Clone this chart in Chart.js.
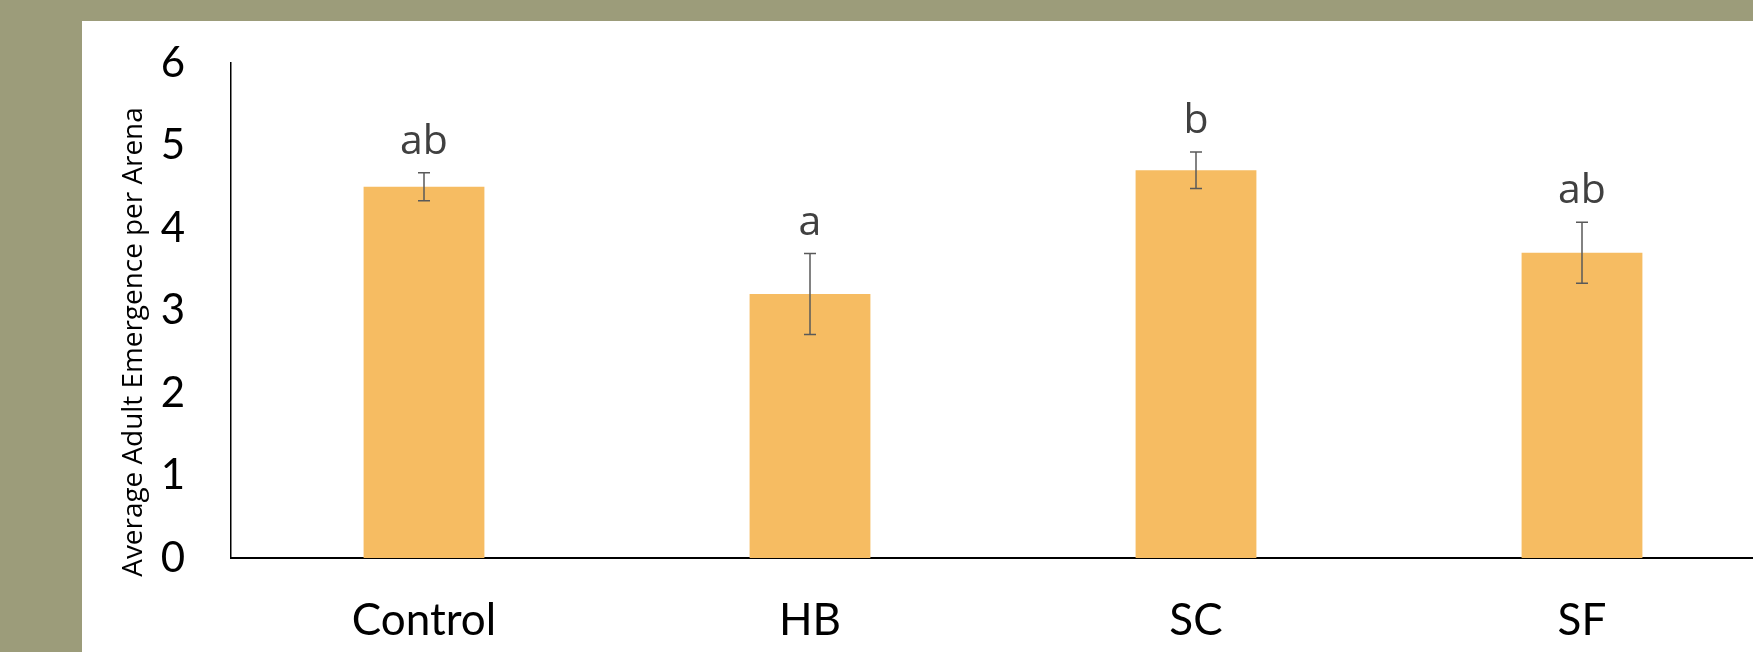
<!DOCTYPE html>
<html>
<head>
<meta charset="utf-8">
<script src="https://cdn.jsdelivr.net/npm/chart.js@4"></script>
<style>
  html, body { margin: 0; padding: 0; overflow: hidden; }
  body { width: 1753px; height: 652px; background: #9c9c7a; position: relative; }
  #panel { position: absolute; left: 82px; top: 21px; right: 0; bottom: 0; background: #fff; }
  #wrap { position: absolute; left: 0; top: 0; width: 1775px; height: 652px; }
</style>
</head>
<body>
<div id="panel"></div>
<div id="wrap"><canvas id="emergenceChart" width="1775" height="652"></canvas></div>
<script>
// Treatments and mean adult emergence with standard error
const treatments = ['Control', 'HB', 'SC', 'SF'];
const meanEmergence = [4.5, 3.2, 4.7, 3.7];
const stdError = [0.17, 0.49, 0.22, 0.37];
const groupLetters = ['ab', 'a', 'b', 'ab'];
const yTicks = [0, 1, 2, 3, 4, 5, 6];

const Y_TITLE = 'Average Adult Emergence per Arena';

// error bars + significance letters on top of each bar
const errorBarPlugin = {
  id: 'errorBars',
  afterDatasetsDraw(chart) {
    const ctx = chart.ctx;
    const y = chart.scales.y;
    const meta = chart.getDatasetMeta(0);
    ctx.save();
    meta.data.forEach((bar, i) => {
      const hi = y.getPixelForValue(meanEmergence[i] + stdError[i]);
      const lo = y.getPixelForValue(meanEmergence[i] - stdError[i]);
      const x = bar.x;
      ctx.strokeStyle = '#595959';
      ctx.lineWidth = 1.5;
      ctx.beginPath();
      ctx.moveTo(x, hi); ctx.lineTo(x, lo);
      ctx.moveTo(x - 6, hi); ctx.lineTo(x + 6, hi);
      ctx.moveTo(x - 6, lo); ctx.lineTo(x + 6, lo);
      ctx.stroke();

      ctx.fillStyle = '#404040';
      ctx.font = '41px "Open Sans"';
      ctx.textAlign = 'center';
      ctx.textBaseline = 'alphabetic';
      ctx.fillText(groupLetters[i], x, hi - 19);
    });
    ctx.restore();
  }
};

// rotated y axis title, sits a little lower than the axis middle
const yTitlePlugin = {
  id: 'yTitle',
  afterDraw(chart) {
    const ctx = chart.ctx;
    ctx.save();
    ctx.translate(134, 342);
    ctx.rotate(-Math.PI / 2);
    ctx.fillStyle = '#000';
    ctx.font = '27.9px "Open Sans"';
    ctx.textAlign = 'center';
    ctx.textBaseline = 'middle';
    ctx.fillText(Y_TITLE, 0, 0);
    ctx.restore();
  }
};

function initChart() {
  const canvas = document.getElementById('emergenceChart');
  new Chart(canvas.getContext('2d'), {
    type: 'bar',
    data: {
      labels: treatments,
      datasets: [{
        label: 'Adult emergence',
        data: meanEmergence,
        backgroundColor: '#f6bc62',
        borderWidth: 0,
        categoryPercentage: 1,
        barPercentage: 0.313
      }]
    },
    options: {
      responsive: false,
      animation: false,
      devicePixelRatio: 1,
      layout: { padding: { top: 63, left: 0, right: 0, bottom: 0 } },
      plugins: { legend: { display: false }, tooltip: { enabled: false } },
      scales: {
        x: {
          grid: { display: false, drawTicks: false },
          border: { display: true, color: '#000', width: 2 },
          ticks: { color: '#000', font: { family: 'Lato', size: 44 }, padding: 36 },
          afterFit(scale) { scale.height = 94; }
        },
        y: {
          min: 0,
          max: 6,
          grid: { display: false, drawTicks: false },
          border: { display: true, color: '#000', width: 1.5 },
          afterBuildTicks(scale) { scale.ticks = yTicks.map(v => ({ value: v })); },
          ticks: { color: '#000', font: { family: 'Lato', size: 42 }, padding: 46 },
          afterFit(scale) {
            // wide label padding should not push the plot area down
            scale.width = 231;
            scale.paddingTop = 0;
            scale.paddingBottom = 0;
          }
        }
      }
    },
    plugins: [errorBarPlugin, yTitlePlugin]
  });
}

if (document.readyState === 'loading') {
  document.addEventListener('DOMContentLoaded', initChart);
} else {
  initChart();
}
</script>
</body>
</html>
